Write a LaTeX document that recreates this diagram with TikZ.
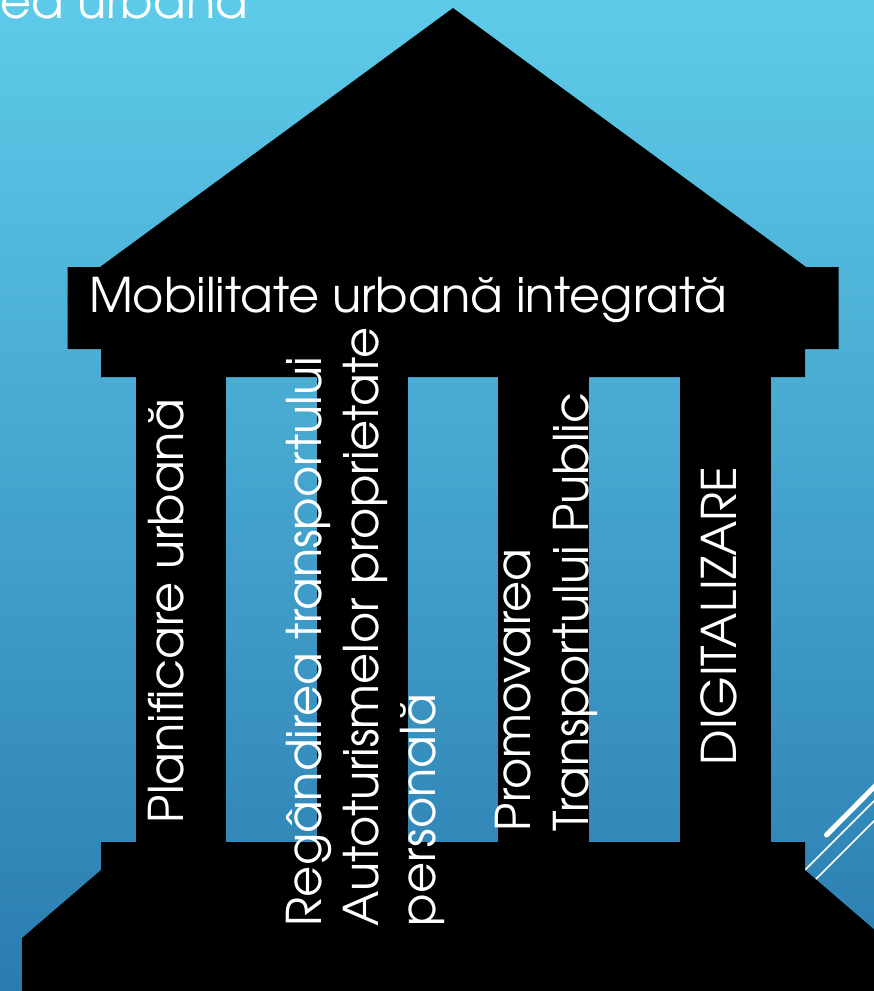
\documentclass[tikz,border=0pt]{standalone}
\usepackage{fontspec}
\newfontfamily\gothic{texgyreadventor}[Extension=.otf,UprightFont=*-regular]
\definecolor{skytop}{RGB}{94,203,233}
\definecolor{skybot}{RGB}{42,124,176}
\newlength\mobw
\begin{document}
% size the lettering so the frieze line spans its width
\settowidth\mobw{\gothic\fontsize{10pt}{12pt}\selectfont Mobilitate urbană integrată}%
\pgfmathsetmacro\fsz{10*638/\mobw}%
\begin{tikzpicture}[x=1pt,y=-1pt]
  \tikzset{
    lbl/.style={text=white, inner sep=0pt, outer sep=0pt,
      font=\gothic\fontsize{\fsz pt}{\fsz pt}\selectfont},
    vlbl/.style={lbl, rotate=90, anchor=base west},
    deco/.style={white, line cap=round},
    stone/.style={fill=black, draw=none},
  }
  \useasboundingbox (0,0) rectangle (874,991);
  \clip (0,0) rectangle (874,991);
  % sky background
  \shade[top color=skytop, bottom color=skybot] (0,0) rectangle (874,991);

  % heading fragment along the top edge
  \node[lbl, anchor=base east] (head) at (248,18) {ea urbană};

  % decorative strokes at the right edge
  \draw[deco, line width=5pt] (826.5,835) -- (890,771);
  \draw[deco, line width=1.6pt, line cap=butt] (790,885) -- (890,785);
  \draw[deco, line width=1.6pt, line cap=butt] (800,895) -- (890,805);

  % temple: roof, frieze and capital band
  \path[stone]
    (453,8) -- (806,267) -- (838.5,267) -- (838.5,349) -- (805,349) -- (805,377)
    -- (101,377) -- (101,349) -- (67.5,349) -- (67.5,267) -- (100,267) -- cycle;
  % columns
  \path[stone] (136,376) rectangle (226,843);
  \path[stone] (317,376) rectangle (408,843);
  \path[stone] (498,376) rectangle (589,843);
  \path[stone] (680,376) rectangle (771,843);
  % plinth and steps
  \path[stone]
    (101,842) -- (805,842) -- (805,870) -- (884,938) -- (884,1000)
    -- (22,1000) -- (22,938) -- (101,870) -- cycle;

  % frieze
  \node[lbl, anchor=base west] (frieze) at (89,312.7) {Mobilitate urbană integrată};

  % column labels
  \node[vlbl] (c1) at (183,823) {Planificare urbană};
  \node[vlbl] (c2a) at (321,926) {Regândirea transportului};
  \node[vlbl] (c2b) at (378,926) {Autoturismelor proprietate};
  \node[vlbl] (c2c) at (435,926) {personală};
  \node[vlbl] (c3a) at (530,831) {Promovarea};
  \node[vlbl] (c3b) at (588,831) {Transportului Public};
  \node[vlbl] (c4) at (736,765) {DIGITALIZARE};
\end{tikzpicture}
\end{document}
